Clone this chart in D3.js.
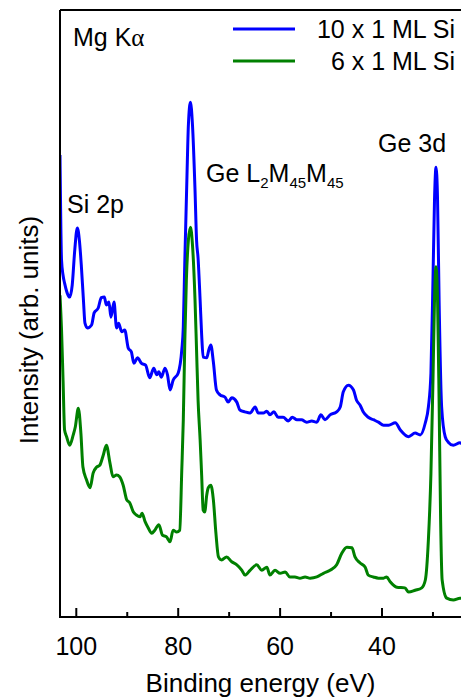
<!DOCTYPE html>
<html>
<head>
<meta charset="utf-8">
<script src="https://cdn.jsdelivr.net/npm/d3@7"></script>
<style>
  body { margin: 0; background: #fff; }
  text { font-family: "Liberation Sans", Arial, sans-serif; fill: #000; }
</style>
</head>
<body>
<svg class="chart"></svg>
<script>
var width = 461,
    height = 698;
var margin = {left: 60, top: 10, bottom: 81};

// binding energy (eV) and intensity (arb. units)
var energy10 = [103.1,102.8,102.5,102.2,101.7,101.2,100.7,100.2,99.7,99.3,98.9,98.5,98.2,97.7,96.9,96.4,95.6,95.0,94.4,94.0,93.5,93.1,92.5,92.0,91.6,91.0,90.4,89.7,89.1,88.6,87.9,87.1,86.3,85.5,84.7,84.1,83.7,83.2,82.5,82.0,81.5,80.9,79.9,79.2,78.9,78.6,78.2,77.9,77.5,77.1,76.6,76.3,76.0,75.6,75.3,75.0,74.3,73.9,73.5,73.0,72.4,71.7,70.7,70.1,69.4,68.4,67.8,66.8,65.8,64.8,64.2,63.2,62.5,61.9,61.1,60.3,59.3,58.3,57.5,56.6,55.7,54.7,53.7,52.7,51.9,51.1,50.1,48.8,48.1,47.5,46.5,45.5,44.9,44.2,43.6,42.6,41.6,40.6,39.6,38.6,37.3,36.3,34.7,33.4,32.4,31.4,30.8,30.3,29.9,29.6,29.3,29.0,28.7,28.2,27.5,26.9,25.9,24.6,24.2];
var counts10 = [76.1,58.8,56.3,55.0,53.4,52.7,54.7,60.5,64.1,62.1,57.7,52.2,48.4,47.6,48.1,50.1,50.9,52.6,52.7,51.4,51.9,49.4,51.9,47.6,48.4,47.0,47.3,44.3,43.7,41.8,42.7,41.8,41.5,39.4,41.0,39.9,40.4,39.5,41.0,39.9,37.4,39.0,40.2,44.0,47.8,58.8,72.0,81.1,84.8,81.1,70.3,62.1,59.1,52.2,46.5,42.8,42.7,44.0,44.8,42.0,37.4,36.6,36.2,35.4,36.1,35.4,34.1,33.8,33.6,34.6,33.6,33.6,33.9,33.3,33.8,32.9,32.9,32.3,32.9,32.5,32.5,32.1,32.3,32.1,33.3,32.5,33.3,33.8,34.6,37.1,38.2,37.4,35.7,34.9,33.8,32.9,32.5,32.1,31.6,31.6,32.0,30.8,29.7,30.3,30.0,32.0,34.6,40.2,55.5,68.7,74.1,68.7,52.2,34.6,29.7,28.8,28.3,28.7,28.5];

var energy6 = [103.1,102.8,102.5,102.2,101.8,101.2,100.5,100.1,99.5,99.0,98.6,97.9,97.2,96.6,95.9,95.3,94.6,94.0,93.3,92.7,92.0,91.4,90.7,90.0,89.4,88.7,88.1,87.4,87.0,86.4,85.8,85.1,84.5,83.7,83.0,82.2,81.5,80.9,80.2,79.6,79.2,78.9,78.6,78.3,77.9,77.5,77.1,76.6,76.3,76.0,75.6,75.3,75.0,74.7,74.3,74.0,73.5,73.0,72.5,72.0,71.4,70.4,69.4,68.4,67.4,66.8,65.8,64.5,63.5,62.5,61.9,60.9,59.9,58.9,58.0,57.0,56.0,55.0,54.0,52.7,51.4,50.1,48.8,47.8,46.8,45.8,45.2,44.2,43.2,42.6,41.6,40.6,39.6,39.0,38.3,37.0,35.4,34.7,33.4,32.1,31.4,30.8,30.3,29.9,29.6,29.3,29.0,28.7,28.4,28.1,27.2,25.9,24.6,24.2];
var counts6 = [53.0,47.3,39.0,30.8,29.7,28.3,30.0,31.3,34.4,30.3,24.7,22.6,21.3,23.7,24.7,25.0,26.7,28.3,25.4,23.1,23.4,23.1,21.7,19.3,18.8,17.3,16.8,16.5,17.1,15.7,14.7,13.8,14.3,15.2,13.5,13.2,12.4,14.3,14.0,14.3,24.2,32.5,45.6,55.5,62.1,64.2,61.3,52.2,44.0,35.7,29.2,23.4,17.6,17.3,20.1,21.3,21.7,19.3,13.8,9.9,9.4,9.9,9.1,8.6,7.7,6.9,7.7,8.6,7.7,8.2,6.9,7.7,7.2,7.4,6.6,6.6,6.4,6.6,6.4,6.6,7.2,7.7,8.6,10.5,11.5,11.4,9.9,8.9,8.2,6.9,6.6,6.4,6.4,6.6,5.8,4.9,4.8,4.1,4.4,4.8,6.1,12.7,23.7,39.0,52.2,57.7,52.2,35.7,16.0,6.1,3.1,2.8,3.1,3.1];

var majorTicks = [100, 80, 60, 40];
var minorTicks = [90, 70, 50, 30];
var seriesNames = ["10 x 1 ML Si", "6 x 1 ML Si"];
var colors = ["#0000ff", "#008000"];

var plotBottom = height - margin.bottom;

var xscale = d3.scaleLinear().domain([103.1, 24.4]).range([margin.left, width]);
var yscale = d3.scaleLinear().domain([0, 100]).range([plotBottom, margin.top]);

var chart = d3.select(".chart")
    .attr("width", width)
    .attr("height", height);

chart.append("clipPath").attr("id", "clip")
  .append("rect")
    .attr("x", margin.left)
    .attr("y", margin.top)
    .attr("width", width - margin.left)
    .attr("height", plotBottom - margin.top);

var line = d3.line()
    .x(function(d) { return xscale(d[0]); })
    .y(function(d) { return yscale(d[1]); })
    .curve(d3.curveMonotoneX);

var series = [d3.zip(energy10, counts10), d3.zip(energy6, counts6)];

chart.append("g").attr("clip-path", "url(#clip)")
  .selectAll("path")
    .data(series)
  .enter().append("path")
    .attr("d", line)
    .attr("fill", "none")
    .attr("stroke", function(d, i) { return colors[i]; })
    .attr("stroke-width", 3)
    .attr("stroke-linejoin", "round");

// frame (top and left), bottom axis
chart.append("line") //top
    .attr("x1", margin.left).attr("y1", margin.top)
    .attr("x2", width).attr("y2", margin.top)
    .attr("stroke", "#000").attr("stroke-width", 2);
chart.append("line") //left
    .attr("x1", margin.left).attr("y1", margin.top)
    .attr("x2", margin.left).attr("y2", plotBottom)
    .attr("stroke", "#000").attr("stroke-width", 2);

var xaxis = chart.append("g")
    .attr("transform", "translate(0," + plotBottom + ")")
    .call(d3.axisBottom(xscale).tickValues(majorTicks).tickSize(-9).tickPadding(20).tickFormat(d3.format("d")));
xaxis.select(".domain").remove();
xaxis.selectAll(".tick line").attr("stroke-width", 2);
xaxis.selectAll("text")
    .style("font-family", '"Liberation Sans", Arial, sans-serif')
    .style("font-size", "25px")
    .attr("fill", "#000");

var minor = chart.append("g")
    .attr("transform", "translate(0," + plotBottom + ")")
    .call(d3.axisBottom(xscale).tickValues(minorTicks).tickSize(-5).tickFormat(""));
minor.select(".domain").remove();
minor.selectAll(".tick line").attr("stroke-width", 2);

chart.append("line") //x-axis
    .attr("x1", margin.left - 1).attr("y1", plotBottom)
    .attr("x2", width).attr("y2", plotBottom)
    .attr("stroke", "#000").attr("stroke-width", 2);

chart.append("text")
    .attr("x", (margin.left + width) / 2)
    .attr("y", 692)
    .attr("text-anchor", "middle")
    .style("font-size", "26px")
    .text("Binding energy (eV)");

chart.append("text")
    .attr("transform", "translate(38,330) rotate(-90)")
    .attr("text-anchor", "middle")
    .style("font-size", "26px")
    .text("Intensity (arb. units)");

// legend
var legend = chart.selectAll(".legend")
    .data(seriesNames)
  .enter().append("g")
    .attr("class", "legend")
    .attr("transform", function(d, i) { return "translate(0," + (29 + i * 32) + ")"; });

legend.append("line")
    .attr("x1", 233).attr("x2", 295)
    .attr("stroke", function(d, i) { return colors[i]; })
    .attr("stroke-width", 3);

legend.append("text")
    .attr("x", 455)
    .attr("y", 9)
    .attr("text-anchor", "end")
    .style("font-size", "25px")
    .text(function(d) { return d; });

// peak labels
var mg = chart.append("text").attr("x", 73).attr("y", 46).style("font-size", "25px");
mg.append("tspan").text("Mg K");
mg.append("tspan").style("font-family", '"Liberation Serif", serif').text("\u03b1");

chart.append("text").attr("x", 67).attr("y", 213).style("font-size", "25px").text("Si 2p");

var lmm = chart.append("text").attr("x", 206).attr("y", 182).style("font-size", "25px");
lmm.append("tspan").text("Ge L");
lmm.append("tspan").attr("dy", 6).style("font-size", "15px").text("2");
lmm.append("tspan").attr("dy", -6).text("M");
lmm.append("tspan").attr("dy", 6).style("font-size", "15px").text("45");
lmm.append("tspan").attr("dy", -6).text("M");
lmm.append("tspan").attr("dy", 6).style("font-size", "15px").text("45");

chart.append("text").attr("x", 378).attr("y", 152).style("font-size", "25px").text("Ge 3d");
</script>
</body>
</html>
